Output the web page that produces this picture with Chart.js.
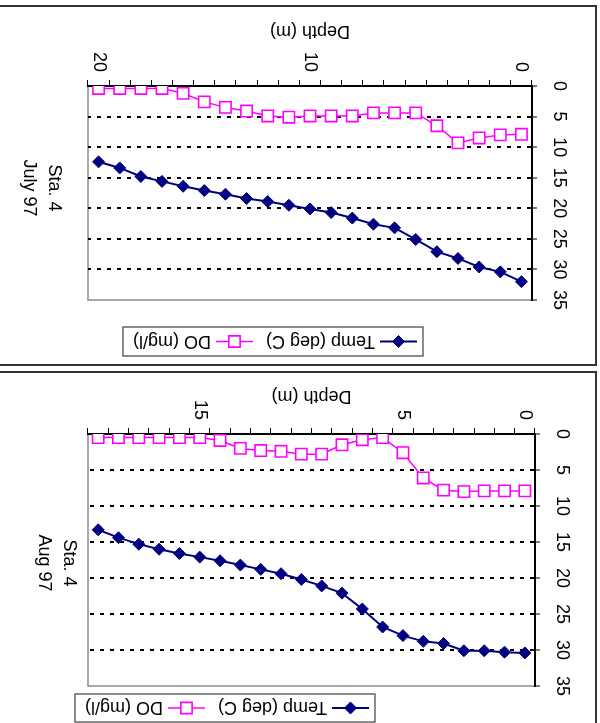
<!DOCTYPE html>
<html>
<head>
<meta charset="utf-8">
<title>Sta. 4 profiles</title>
<script src="https://cdn.jsdelivr.net/npm/chart.js@4/dist/chart.umd.min.js"></script>
<style>
  body { margin: 0; background: #fff; }
  /* the scanned sheet is mounted upside down */
  #page { position: relative; width: 600px; height: 723px; overflow: hidden; transform: rotate(180deg); background: #fff; }
  .box { position: absolute; box-sizing: border-box; border: 0 solid #333; }
  canvas { position: absolute; left: 0; }
</style>
</head>
<body>
<div id="page">
  <div class="box" style="left:3px; top:-5px; width:620px; height:357px; border-left-width:2px; border-bottom-width:2px;"></div>
  <div class="box" style="left:3px; top:357px; width:620px; height:361px; border-left-width:2px; border-top-width:2px; border-bottom-width:2px;"></div>
  <canvas id="augChart" width="600" height="351" style="top:0px"></canvas>
  <canvas id="julyChart" width="600" height="358" style="top:358px"></canvas>
</div>
<script>
// Station 4 profiles: temperature and dissolved oxygen against depth
const julyDepths = [0, 1, 2, 3, 4, 5, 6, 7, 8, 9, 10, 11, 12, 13, 14, 15, 16, 17, 18, 19, 20];
const julyDepthTicks = ['0', '10', '20'];
const julyTemp = [32.0, 30.4, 29.6, 28.2, 27.1, 25.1, 23.2, 22.6, 21.6, 20.7, 20.1, 19.5, 18.9, 18.4, 17.7, 17.1, 16.4, 15.6, 14.8, 13.4, 12.4];
const julyDO = [7.9, 8.0, 8.5, 9.3, 6.5, 4.4, 4.4, 4.4, 4.9, 4.9, 4.9, 5.1, 4.9, 4.1, 3.5, 2.6, 1.2, 0.4, 0.4, 0.4, 0.4];

const augDepths = [0, 0.5, 1, 2, 3, 4, 5, 6, 7, 8, 9, 10, 11, 12, 13, 14, 15, 16, 17, 18, 19, 20];
const augDepthTicks = ['0', '5', '15'];
const augTemp = [30.4, 30.3, 30.1, 30.1, 29.1, 28.8, 28.0, 26.8, 24.3, 22.1, 21.1, 20.2, 19.4, 18.8, 18.2, 17.6, 17.1, 16.6, 16.0, 15.3, 14.4, 13.3];
const augDO = [7.9, 7.9, 7.9, 8.0, 7.8, 6.1, 2.6, 0.5, 0.8, 1.5, 2.8, 2.8, 2.4, 2.3, 2.0, 0.9, 0.5, 0.5, 0.5, 0.5, 0.5, 0.5];

const valueMax = 35;
const valueStep = 5;

const FONT = '"Liberation Sans", Arial, sans-serif';

function marker(ctx, style, x, y, r, fill, stroke, lw) {
    ctx.beginPath();
    if (style === 'rectRot') {
        ctx.moveTo(x - r, y); ctx.lineTo(x, y - r); ctx.lineTo(x + r, y); ctx.lineTo(x, y + r);
    } else {
        const h = r * Math.SQRT1_2;
        ctx.rect(x - h, y - h, 2 * h, 2 * h);
    }
    ctx.closePath();
    ctx.fillStyle = fill; ctx.fill();
    ctx.lineWidth = lw; ctx.strokeStyle = stroke; ctx.stroke();
}

// plot frame, rotated value labels, station note and the legend
const profileDecor = {
    id: 'profileDecor',
    beforeDraw(chart) {
        const { ctx, chartArea: a } = chart;
        ctx.save();
        ctx.strokeStyle = '#8c8c8c';
        ctx.lineWidth = 1.5;
        ctx.strokeRect(a.left, a.top, a.right - a.left, a.bottom - a.top);
        ctx.restore();
    },
    afterDraw(chart, args, opts) {
        const { ctx, chartArea: a } = chart;
        const yScale = chart.scales.y;
        ctx.save();
        ctx.fillStyle = '#000';
        ctx.font = '18px ' + FONT;
        ctx.textAlign = 'center';
        ctx.textBaseline = 'middle';
        yScale.ticks.forEach(t => {
            ctx.save();
            ctx.translate(a.left - 27, yScale.getPixelForValue(t.value));
            ctx.rotate(-Math.PI / 2);
            ctx.fillText(String(t.value), 0, 0);
            ctx.restore();
        });

        ctx.save();
        ctx.translate(opts.noteX, opts.noteY);
        ctx.rotate(-Math.PI / 2);
        opts.note.forEach((line, i) => ctx.fillText(line, 0, i * 25));
        ctx.restore();

        // legend: line sample with marker, then the series name
        const cy = opts.legendY + opts.legendH / 2;
        let cur = opts.legendX + 6;
        ctx.textAlign = 'left';
        chart.data.datasets.forEach(ds => {
            ctx.strokeStyle = ds.borderColor;
            ctx.lineWidth = ds.borderWidth;
            ctx.beginPath(); ctx.moveTo(cur, cy); ctx.lineTo(cur + 37, cy); ctx.stroke();
            marker(ctx, ds.pointStyle, cur + 18.5, cy, ds.pointRadius, ds.pointBackgroundColor, ds.pointBorderColor, ds.pointBorderWidth);
            cur += 42;
            ctx.fillStyle = '#000';
            ctx.fillText(ds.label, cur, cy + 1);
            cur += ctx.measureText(ds.label).width + 13;
        });
        ctx.strokeStyle = '#404040';
        ctx.lineWidth = 1.2;
        ctx.strokeRect(opts.legendX, opts.legendY, cur - 3 - opts.legendX, opts.legendH);
        ctx.restore();
    }
};
Chart.register(profileDecor);

function makeProfile(id, depths, shownDepths, temp, dOx, box) {
    const ctx = document.getElementById(id).getContext('2d');
    return new Chart(ctx, {
        type: 'line',
        data: {
            labels: depths,
            datasets: [{
                label: 'Temp (deg C)',
                data: temp,
                borderColor: '#000080',
                borderWidth: 2,
                pointStyle: 'rectRot',
                pointRadius: 6,
                pointBorderWidth: 1,
                pointBackgroundColor: '#000080',
                pointBorderColor: '#000080',
                tension: 0
            }, {
                label: 'DO (mg/l)',
                data: dOx,
                borderColor: '#ff00ff',
                borderWidth: 1.5,
                pointStyle: 'rect',
                pointRadius: 8,
                pointBorderWidth: 1.6,
                pointBackgroundColor: '#ffffff',
                pointBorderColor: '#ff00ff',
                tension: 0
            }]
        },
        options: {
            responsive: false,
            animation: false,
            layout: { padding: { left: 0, right: box.right, top: box.top, bottom: 0 } },
            plugins: {
                legend: { display: false },
                tooltip: { enabled: false },
                profileDecor: box.decor
            },
            scales: {
                x: {
                    type: 'category',
                    offset: true,
                    grid: { offset: true, drawOnChartArea: false, drawTicks: true, tickLength: 6, tickColor: '#000', tickWidth: 1 },
                    border: { display: true, color: '#000', width: 2 },
                    ticks: {
                        autoSkip: false,
                        minRotation: 90,
                        maxRotation: 90,
                        padding: 8,
                        color: '#000',
                        font: { family: FONT, size: 18 },
                        callback(v) {
                            const l = String(this.getLabelForValue(v));
                            return shownDepths.includes(l) ? l : '';
                        }
                    },
                    title: { display: true, text: 'Depth (m)', color: '#000', font: { family: FONT, size: 18 }, padding: { top: 0, bottom: 13 } },
                    afterFit(s) { s.height = box.axisH; }
                },
                y: {
                    min: 0,
                    max: valueMax,
                    ticks: { stepSize: valueStep, display: false },
                    grid: {
                        color: c => (c.tick && (c.tick.value === 0 || c.tick.value === valueMax)) ? 'rgba(0,0,0,0)' : '#000',
                        lineWidth: 2,
                        drawTicks: true,
                        tickLength: 5,
                        tickColor: '#000',
                        tickWidth: 1
                    },
                    border: { display: true, color: '#000', width: 2, dash: [4, 6] },
                    afterFit(s) { s.width = box.axisW; }
                }
            }
        }
    });
}

makeProfile('augChart', augDepths, augDepthTicks, augTemp, augDO, {
    right: 88, top: 37, axisW: 65, axisH: 62,
    decor: { note: ['Sta. 4', 'Aug 97'], noteX: 531, noteY: 160, legendX: 225, legendY: 1, legendH: 28 }
});

makeProfile('julyChart', julyDepths, julyDepthTicks, julyTemp, julyDO, {
    right: 88, top: 65, axisW: 68, axisH: 79,
    decor: { note: ['Sta. 4', 'July 97'], noteX: 546, noteY: 177, legendX: 177, legendY: 9, legendH: 29 }
});
</script>
</body>
</html>
